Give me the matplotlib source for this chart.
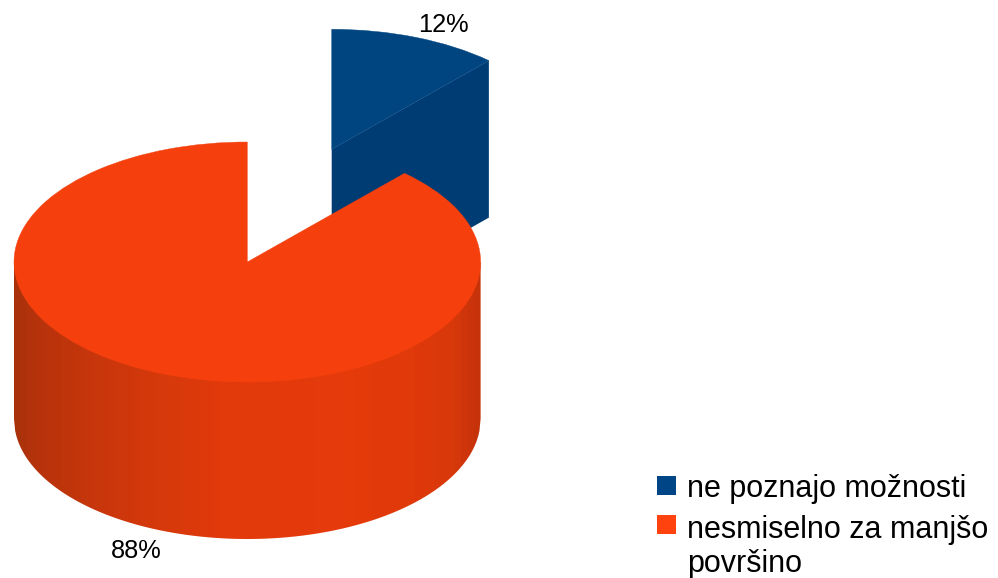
import numpy as np
import matplotlib
matplotlib.use('Agg')
import matplotlib.pyplot as plt
from matplotlib.patches import Wedge, Rectangle, Polygon

# podaci
kategorije = ['ne poznajo možnosti', 'nesmiselno za manjšo\npovršino']
vrednosti = [2, 15]
oznake = ['12%', '88%']

# boje
plava = '#004586'
plava_vrh = '#004480'
plava_bok = '#003c74'
narandzasta = '#ff420e'
narandzasta_vrh = '#f5400e'

# geometrija u pikselima slike
W, H = 998, 578
rx, ry = 233.3, 120.0
dubina = 157
cx, cy = 247.3, 262.0
cx_p, cy_p = 331.7, 149.3
k = rx / ry


def py(p):
    return (H - p) * k


plt.rcParams['font.family'] = ['Liberation Sans', 'DejaVu Sans']
fig = plt.figure(figsize=(W / 100, H / 100), dpi=100)
ax = fig.add_axes([0, 0, 1, 1])

# kriska pocinje na 12 sati i ide u smeru kazaljke
ugao = 360 * vrednosti[0] / sum(vrednosti)
t1, t2 = 90 - ugao, 90.0

# plava kriska: bok pa vrh
ex = cx_p + rx * np.cos(np.radians(t1))
ey = cy_p - ry * np.sin(np.radians(t1))
ax.add_patch(Polygon([(cx_p, py(cy_p)), (ex, py(ey)), (ex, py(ey + dubina)),
                      (cx_p, py(cy_p + dubina))], fc=plava_bok, ec='none', zorder=1))
ax.add_patch(Wedge((cx_p, py(cy_p)), rx, t1, t2, fc=plava_vrh, ec=plava_vrh, lw=0.3, zorder=2))

# narandzasti bok, gradijent isecen po obliku
sidra_x = [0.0, 0.06, 0.2, 0.32, 0.45, 0.7, 0.85, 0.94, 1.0]
sidra_r = [0xa8, 0xb8, 0xcb, 0xd6, 0xe2, 0xe6, 0xe0, 0xd8, 0xc4]
sidra_g = [0x32, 0x33, 0x37, 0x39, 0x3a, 0x3b, 0x39, 0x38, 0x33]
sidra_b = [0x0c, 0x0b, 0x0b, 0x0b, 0x0b, 0x0b, 0x0a, 0x0a, 0x0b]
f = (np.arange(70) + 0.5) / 70
traka = np.dstack([np.interp(f, sidra_x, sidra_r), np.interp(f, sidra_x, sidra_g),
                   np.interp(f, sidra_x, sidra_b)]) / 255
slika = ax.imshow(traka, extent=(cx - rx, cx + rx, py(cy + ry + dubina), py(cy)),
                  aspect='auto', interpolation='nearest', zorder=3)
xx = np.linspace(cx - rx, cx + rx, 400)
dole = cy + dubina + ry * np.sqrt(np.clip(1 - ((xx - cx) / rx) ** 2, 0, 1))
oblik = [(cx - rx, py(cy))] + list(zip(xx, py(dole))) + [(cx + rx, py(cy))]
maska = Polygon(oblik, transform=ax.transData, fc='none', ec='none')
ax.add_patch(maska)
slika.set_clip_path(maska)

# narandzasti vrh
ax.add_patch(Wedge((cx, py(cy)), rx, t2, t1 + 360, fc=narandzasta_vrh, ec=narandzasta_vrh,
                   lw=0.3, zorder=4))

ax.set_xlim(0, W)
ax.set_ylim(0, H * k)
ax.axis('off')

# procenti
fs = 18.3
ax.text(418, py(32), oznake[0], fontsize=fs, color='black', ha='left', va='baseline', zorder=5)
ax.text(111, py(558), oznake[1], fontsize=fs, color='black', ha='left', va='baseline', zorder=5)

# legenda
ax.add_patch(Rectangle((657, py(495)), 19, 19 * k, fc=plava, ec='none', zorder=5))
ax.add_patch(Rectangle((657, py(534)), 19, 19 * k, fc=narandzasta, ec='none', zorder=5))
fl = 22.0
ax.text(687, py(497), kategorije[0], fontsize=fl, ha='left', va='baseline', zorder=5)
red1, red2 = kategorije[1].split('\n')
ax.text(687, py(538), red1, fontsize=fl, ha='left', va='baseline', zorder=5)
ax.text(687, py(572), red2, fontsize=fl, ha='left', va='baseline', zorder=5)

fig.savefig('out.png', dpi=100, facecolor='white')
